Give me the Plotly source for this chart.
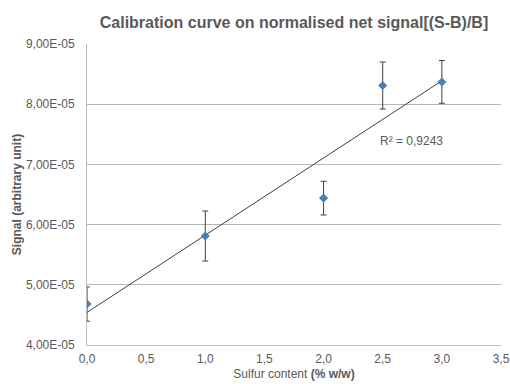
import numpy as np
import plotly.graph_objects as go

# Data
sulfur = [0.0, 1.0, 2.0, 2.5, 3.0]
signal = [4.68e-5, 5.81e-5, 6.44e-5, 8.31e-5, 8.37e-5]
err = [0.285e-5, 0.415e-5, 0.28e-5, 0.39e-5, 0.355e-5]

x_tickvals = [0.0, 0.5, 1.0, 1.5, 2.0, 2.5, 3.0, 3.5]
x_ticktext = ["0,0", "0,5", "1,0", "1,5", "2,0", "2,5", "3,0", "3,5"]
y_tickvals = [4e-5, 5e-5, 6e-5, 7e-5, 8e-5, 9e-5]
y_ticktext = ["4,00E-05", "5,00E-05", "6,00E-05", "7,00E-05", "8,00E-05", "9,00E-05"]
r2_text = "R² = 0,9243"

# Linear trendline
slope, intercept = np.polyfit(sulfur, signal, 1)
trend_x = [min(sulfur), max(sulfur)]
trend_y = [slope * v + intercept for v in trend_x]

GRAY = "#595959"
FONT = "Liberation Sans, Arial, sans-serif"

fig = go.Figure()
fig.add_trace(go.Scatter(
    x=trend_x, y=trend_y, mode="lines",
    line=dict(color="#404040", width=1), hoverinfo="skip", showlegend=False,
))
fig.add_trace(go.Scatter(
    x=sulfur, y=signal, mode="markers",
    marker=dict(symbol="diamond", size=7, color="#4a7ebb"),
    error_y=dict(type="data", array=err, visible=True, color="#404040",
                 thickness=1, width=3),
    showlegend=False,
))

fig.add_annotation(
    x=2.46, y=7.39e-5, xref="x", yref="y", text=r2_text, showarrow=False,
    xanchor="left", yanchor="middle",
    font=dict(family=FONT, size=12, color=GRAY),
)

fig.update_layout(
    width=510, height=384,
    margin=dict(l=87, r=9, t=44, b=39),
    paper_bgcolor="white", plot_bgcolor="white",
    font=dict(family=FONT, size=12, color=GRAY),
    title=dict(
        text="<b>Calibration curve on normalised net signal[(S-B)/B]</b>",
        x=294 / 510, xanchor="center",
        y=1 - 22 / 384, yanchor="middle",
        font=dict(family=FONT, size=16, color=GRAY),
    ),
    xaxis=dict(
        range=[0, 3.5], tickvals=x_tickvals, ticktext=x_ticktext,
        showgrid=False, zeroline=False, showline=True, linecolor="#bfbfbf",
        linewidth=1, ticks="", ticklabelstandoff=3, automargin=False,
        tickfont=dict(size=12, color=GRAY),
        title=dict(text="Sulfur content <b>(% w/w)</b>", standoff=4,
                   font=dict(size=12, color=GRAY)),
    ),
    yaxis=dict(
        range=[4e-5, 9e-5], tickvals=y_tickvals, ticktext=y_ticktext,
        showgrid=True, gridcolor="#b8b8b8", gridwidth=1, zeroline=False,
        showline=True, linecolor="#b8b8b8", linewidth=1, ticks="",
        ticklabelstandoff=9, automargin=False,
        tickfont=dict(size=12, color=GRAY),
        title=dict(text="<b>Signal (arbitrary unit)</b>", standoff=1,
                   font=dict(size=12, color=GRAY)),
    ),
)

fig.write_html(
    "out.html",
    config={"displayModeBar": False},
    post_script="document.body.style.margin='0';document.body.style.overflow='hidden';",
)
